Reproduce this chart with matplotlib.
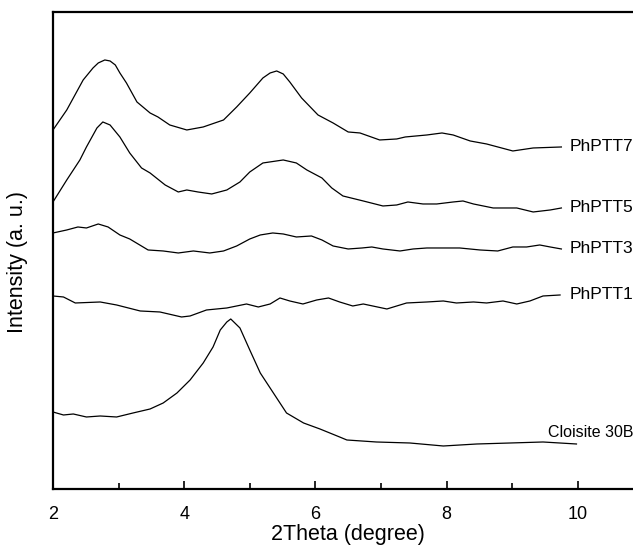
import numpy as np
import matplotlib
matplotlib.use("Agg")
import matplotlib.pyplot as plt
from matplotlib.ticker import MultipleLocator

plt.rcParams['font.family'] = ['Liberation Sans', 'DejaVu Sans']

# --- XRD patterns (2theta in degree, intensity in a.u.) ---
x_ph7 = [2.0, 2.21, 2.46, 2.61, 2.69, 2.79, 2.87, 2.95, 3.02, 3.12, 3.28, 3.48, 3.6,
         3.78, 4.04, 4.29, 4.6, 4.8, 5.0, 5.2, 5.31, 5.41, 5.51, 5.61, 5.79, 6.04,
         6.27, 6.5, 6.68, 6.98, 7.24, 7.37, 7.7, 7.93, 8.1, 8.36, 8.61, 9.01, 9.32, 9.75]
y_ph7 = [359, 379, 409, 421, 426, 429, 428, 424, 416, 406, 387, 376, 372,
         364, 359, 362, 369, 382, 396, 411, 416, 418, 415, 407, 391, 374,
         366, 357, 356, 349, 350, 352, 354, 356, 354, 348, 345, 338, 341, 342]

x_ph5 = [2.0, 2.21, 2.41, 2.51, 2.67, 2.76, 2.87, 3.02, 3.17, 3.35, 3.48, 3.71, 3.91,
         4.04, 4.21, 4.42, 4.65, 4.85, 5.0, 5.2, 5.51, 5.71, 5.87, 6.1, 6.25, 6.42,
         6.73, 7.03, 7.24, 7.41, 7.64, 7.85, 8.1, 8.25, 8.41, 8.71, 9.07, 9.32, 9.58, 9.75]
y_ph5 = [287, 309, 329, 342, 361, 367, 364, 352, 336, 321, 316, 304, 297,
         299, 297, 295, 299, 307, 317, 326, 329, 326, 319, 311, 301, 293,
         288, 283, 284, 287, 285, 285, 287, 288, 285, 281, 281, 277, 279, 281]

x_ph3 = [2.0, 2.21, 2.38, 2.51, 2.69, 2.84, 3.02, 3.17, 3.45, 3.68, 3.91, 4.14, 4.39,
         4.6, 4.8, 5.0, 5.16, 5.35, 5.51, 5.71, 5.94, 6.1, 6.27, 6.5, 6.71, 6.86,
         7.03, 7.29, 7.49, 7.7, 8.05, 8.2, 8.51, 8.78, 9.01, 9.22, 9.42, 9.58, 9.75]
y_ph3 = [256, 259, 262, 261, 265, 262, 254, 250, 239, 238, 236, 238, 236,
         238, 243, 250, 254, 256, 255, 252, 253, 249, 243, 240, 241, 242,
         240, 238, 240, 241, 241, 241, 239, 238, 242, 242, 244, 242, 240]

x_ph1 = [2.0, 2.16, 2.34, 2.72, 2.97, 3.33, 3.63, 3.96, 4.09, 4.34, 4.65, 4.95, 5.13,
         5.31, 5.46, 5.61, 5.81, 6.02, 6.2, 6.37, 6.57, 6.73, 7.09, 7.39, 7.7, 7.95,
         8.15, 8.41, 8.61, 8.86, 9.07, 9.27, 9.47, 9.73]
y_ph1 = [193, 192, 186, 187, 184, 178, 177, 172, 173, 179, 181, 185, 182,
         185, 191, 188, 185, 189, 191, 187, 183, 185, 180, 186, 187, 188,
         186, 187, 186, 188, 185, 188, 193, 194]

x_clo = [2.0, 2.16, 2.31, 2.51, 2.72, 2.97, 3.22, 3.48, 3.68, 3.89, 4.09, 4.29, 4.44,
         4.55, 4.65, 4.71, 4.85, 5.0, 5.16, 5.36, 5.56, 5.82, 6.07, 6.37, 6.48,
         6.93, 7.44, 7.95, 8.46, 8.97, 9.47, 9.98]
y_clo = [77, 74, 75, 72, 73, 72, 76, 80, 86, 96, 109, 126, 142,
         159, 167, 170, 161, 139, 116, 96, 76, 66, 60, 52, 49,
         47, 46, 43, 45, 46, 47, 45]

series = [(x_ph7, y_ph7, 'PhPTT7'), (x_ph5, y_ph5, 'PhPTT5'),
          (x_ph3, y_ph3, 'PhPTT3'), (x_ph1, y_ph1, 'PhPTT1')]

fig = plt.figure(figsize=(6.33, 5.49), dpi=100)
ax = fig.add_axes([0.0837, 0.1093, 0.9327, 0.8689])

for xs, ys, name in series:
    ax.plot(xs, ys, color='black', lw=0.9)
    ax.text(9.88, ys[-1], name, fontsize=12.5, va='center', ha='left')

ax.plot(x_clo, y_clo, color='black', lw=0.9)
ax.text(9.55, y_clo[-1] + 11, 'Cloisite 30B', fontsize=11.5, va='center', ha='left')

ax.set_xlim(2, 11)
ax.set_ylim(0, 477)
ax.xaxis.set_major_locator(MultipleLocator(2))
ax.xaxis.set_minor_locator(MultipleLocator(1))
ax.tick_params(axis='x', which='both', direction='in', top=False, labelsize=13, width=1.2)
ax.tick_params(axis='x', which='major', length=6, pad=12)
ax.tick_params(axis='x', which='minor', length=4)
ax.set_yticks([])
ax.spines['right'].set_visible(False)
for s in ['left', 'top', 'bottom']:
    ax.spines[s].set_linewidth(1.6)

ax.set_xlabel('2Theta (degree)', fontsize=15.5)
ax.xaxis.set_label_coords(0.5, -0.074)
ax.set_ylabel('Intensity (a. u.)', fontsize=15.5)
ax.yaxis.set_label_coords(-0.042, 0.476)

fig.savefig('out.png', dpi=100)
